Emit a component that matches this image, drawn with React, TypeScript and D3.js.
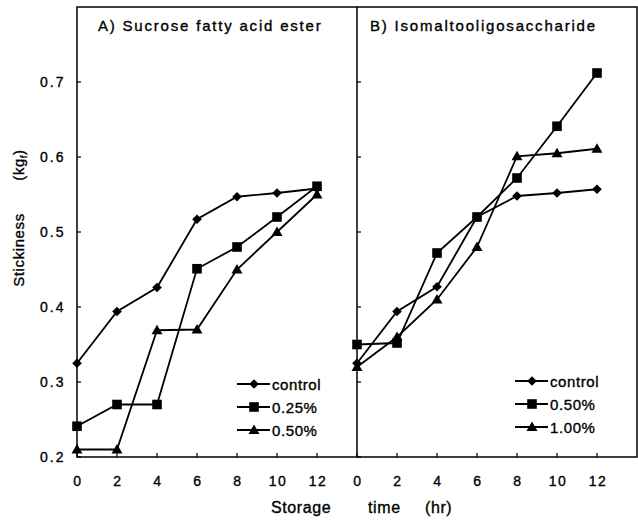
import React from "react";
import * as d3 from "d3";

const hours = [0, 2, 4, 6, 8, 10, 12];
const yTicks = [0.2, 0.3, 0.4, 0.5, 0.6, 0.7];

// panel A: sucrose fatty acid ester
const aControl = [0.325, 0.394, 0.426, 0.517, 0.547, 0.552, 0.558];
const a025 = [0.241, 0.27, 0.27, 0.451, 0.48, 0.52, 0.561];
const a050 = [0.21, 0.21, 0.369, 0.37, 0.45, 0.5, 0.55];

// panel B: isomaltooligosaccharide
const bControl = [0.325, 0.394, 0.427, 0.52, 0.548, 0.552, 0.557];
const b050 = [0.35, 0.352, 0.472, 0.52, 0.572, 0.641, 0.712];
const b100 = [0.32, 0.36, 0.41, 0.48, 0.601, 0.605, 0.611];

const panels = [
  {
    title: "A) Sucrose fatty acid ester",
    x0: 77,
    titleX: 98,
    series: [
      { name: "control", values: aControl, shape: "diamond" },
      { name: "0.25%", values: a025, shape: "square" },
      { name: "0.50%", values: a050, shape: "triangle" },
    ],
    legend: { x: 237, y: 384 },
  },
  {
    title: "B) Isomaltooligosaccharide",
    x0: 357,
    titleX: 370,
    series: [
      { name: "control", values: bControl, shape: "diamond" },
      { name: "0.50%", values: b050, shape: "square" },
      { name: "1.00%", values: b100, shape: "triangle" },
    ],
    legend: { x: 515, y: 381 },
  },
];

const font = "Liberation Sans, Arial, sans-serif";
const ink = { fill: "#000", stroke: "#000", strokeWidth: 0.35 };

const Marker = ({ shape, x, y }: { shape: string; x: number; y: number }) => {
  if (shape === "diamond") {
    const s = 4.8;
    return <path d={`M${x},${y - s}L${x + s},${y}L${x},${y + s}L${x - s},${y}Z`} fill="#000" />;
  }
  if (shape === "square") {
    return <rect x={x - 4.8} y={y - 4.8} width={9.6} height={9.6} fill="#000" />;
  }
  return <path d={`M${x},${y - 5.5}L${x + 5.5},${y + 4}L${x - 5.5},${y + 4}Z`} fill="#000" />;
};

const Panel = ({ p, y }: { p: any; y: d3.ScaleLinear<number, number> }) => {
  const x = d3.scaleLinear().domain([0, 14]).range([p.x0, p.x0 + 280]);
  const line = d3
    .line<number>()
    .x((d, i) => x(hours[i]))
    .y((d) => y(d));
  return (
    <g>
      {hours.map((h) => (
        <line key={"xt" + h} x1={x(h)} x2={x(h)} y1={y(0.2)} y2={y(0.2) - 4} stroke="#000" strokeWidth={1.2} />
      ))}
      {hours.map((h) => (
        <text key={"xl" + h} x={x(h) + 1} y={486} textAnchor="middle" fontSize={14} fontFamily={font} letterSpacing={1.5} {...ink}>
          {h}
        </text>
      ))}
      {yTicks.map((t) => (
        <line key={"yt" + t} x1={x(0)} x2={x(0) + 4} y1={y(t)} y2={y(t)} stroke="#000" strokeWidth={1.2} />
      ))}
      <text x={p.titleX} y={31} fontSize={15} fontFamily={font} letterSpacing={1.8} {...ink}>
        {p.title}
      </text>
      {p.series.map((s: any) => (
        <g key={s.name}>
          <path d={line(s.values) || ""} fill="none" stroke="#000" strokeWidth={1.8} />
          {s.values.map((v: number, i: number) => (
            <Marker key={i} shape={s.shape} x={x(hours[i])} y={y(v)} />
          ))}
        </g>
      ))}
      {p.series.map((s: any, i: number) => {
        const ly = p.legend.y + i * 23;
        return (
          <g key={"lg" + s.name}>
            <line x1={p.legend.x} x2={p.legend.x + 33} y1={ly} y2={ly} stroke="#000" strokeWidth={1.8} />
            <Marker shape={s.shape} x={p.legend.x + 17} y={ly} />
            <text x={p.legend.x + 35} y={ly + 5.5} fontSize={15} fontFamily={font} letterSpacing={0.6} {...ink}>
              {s.name}
            </text>
          </g>
        );
      })}
    </g>
  );
};

const App = () => {
  const y = d3.scaleLinear().domain([0.2, 0.8]).range([457, 7]);
  return (
    <svg width={638} height={520} style={{ position: "absolute", left: 0, top: 0, background: "#fff" }}>
      <rect x={77} y={7} width={560} height={450} fill="none" stroke="#000" strokeWidth={1.5} />
      <line x1={357} x2={357} y1={7} y2={457} stroke="#000" strokeWidth={1.5} />
      {yTicks.map((t) => (
        <text key={t} x={40} y={y(t) + 5} fontSize={14} fontFamily={font} letterSpacing={2} {...ink}>
          {t.toFixed(1)}
        </text>
      ))}
      {panels.map((p) => (
        <Panel key={p.title} p={p} y={y} />
      ))}
      <text transform="translate(24,250) rotate(-90)" textAnchor="middle" fontSize={15} fontFamily={font} letterSpacing={0.6} {...ink}>
        Stickiness
      </text>
      <text transform="translate(24,165) rotate(-90)" textAnchor="middle" fontSize={15} fontFamily={font} letterSpacing={0.6} {...ink}>
        (kg
        <tspan fontSize={9} dy={3}>f</tspan>
        <tspan dy={-3}>)</tspan>
      </text>
      <text x={271} y={513} fontSize={16} fontFamily={font} letterSpacing={0.6} {...ink}>
        Storage
      </text>
      <text x={368} y={513} fontSize={16} fontFamily={font} letterSpacing={0.6} {...ink}>
        time
      </text>
      <text x={425} y={513} fontSize={16} fontFamily={font} letterSpacing={0.6} {...ink}>
        (hr)
      </text>
    </svg>
  );
};

export default App;
